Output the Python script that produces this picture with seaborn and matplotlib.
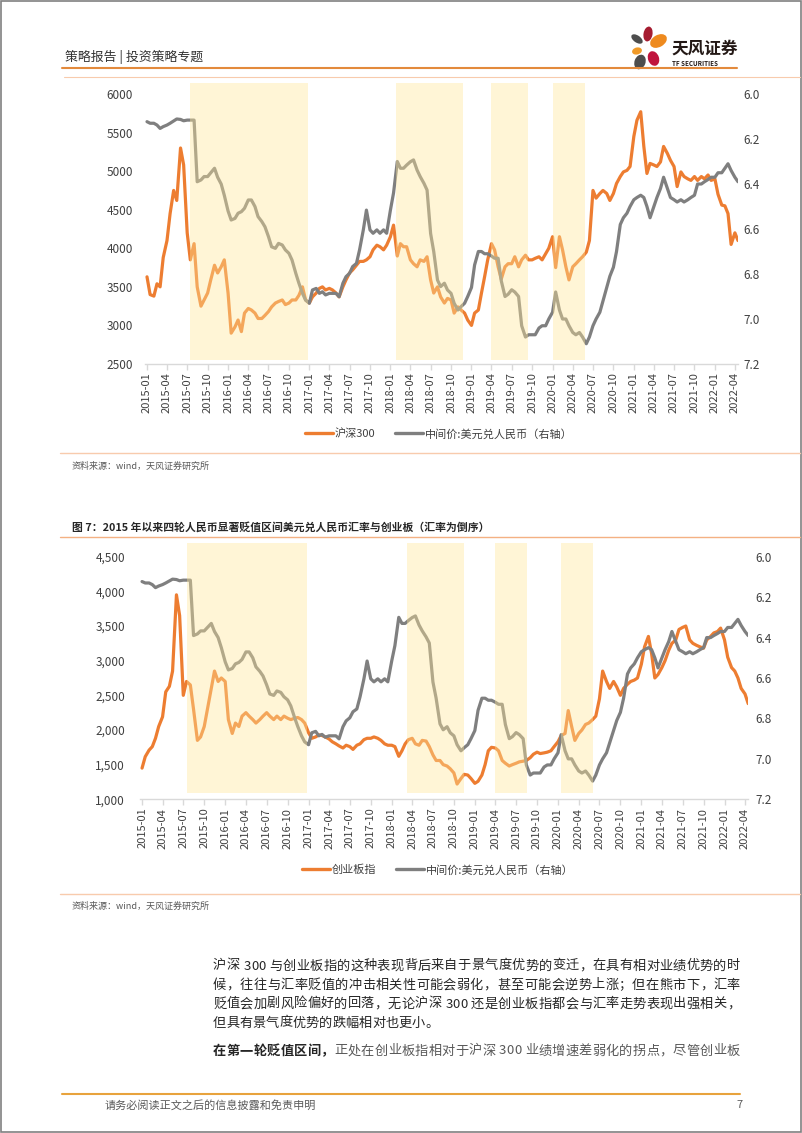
import pandas as pd
import matplotlib
matplotlib.use('Agg')
import matplotlib.pyplot as plt
from matplotlib.lines import Line2D
from matplotlib.patches import Ellipse, Rectangle
import seaborn as sns

# semi-monthly sample dates (1st and 15th), 2015-01 .. 2022-04
dates = pd.date_range('2015-01-01', '2022-04-15', freq='SMS')

# 沪深300
hs300 = [
    3630, 3400, 3380, 3540, 3500, 3880, 4100, 4450, 4750, 4620, 5300, 5080,
    4200, 3850, 4060, 3500, 3250, 3330, 3420, 3590, 3780, 3680, 3760, 3850,  # 2015
    3420, 2900, 2980, 3070, 2920, 3160, 3220, 3200, 3160, 3090, 3090, 3130,
    3180, 3240, 3290, 3310, 3330, 3270, 3290, 3330, 3330, 3390, 3500, 3330,  # 2016
    3290, 3370, 3420, 3480, 3500, 3460, 3480, 3460, 3420, 3370, 3500, 3590,
    3680, 3720, 3780, 3830, 3830, 3850, 3890, 3980, 4040, 4020, 3980, 4040,  # 2017
    4150, 4300, 3900, 4060, 4020, 4020, 3850, 3800, 3760, 3850, 3830, 3890,
    3590, 3420, 3500, 3370, 3290, 3350, 3330, 3160, 3240, 3200, 3160, 3070,  # 2018
    3000, 3160, 3200, 3420, 3630, 3850, 4060, 3980, 3760, 3600, 3760, 3800,
    3800, 3890, 3760, 3850, 3910, 3850, 3850, 3870, 3890, 3850, 3930, 4000,  # 2019
    4150, 3750, 4150, 3980, 3760, 3590, 3760, 3800, 3850, 3890, 3950, 4100,
    4750, 4650, 4710, 4750, 4710, 4620, 4710, 4840, 4930, 4990, 5010, 5060,  # 2020
    5450, 5660, 5770, 5320, 4970, 5100, 5080, 5060, 5120, 5320, 5230, 5140,
    5060, 4800, 4990, 4930, 4900, 4880, 4930, 4880, 4930, 4900, 4950, 4880,  # 2021
    4900, 4700, 4560, 4550, 4450, 4050, 4200, 4100,                          # 2022
]

# 创业板指
chinext = [
    1450, 1615, 1710, 1760, 1880, 2050, 2190, 2550, 2630, 2850, 3950, 3650,
    2500, 2700, 2650, 2300, 1850, 1900, 2050, 2300, 2600, 2850, 2700, 2750,  # 2015
    2700, 2150, 1950, 2100, 2050, 2200, 2250, 2200, 2150, 2100, 2150, 2200,
    2250, 2200, 2150, 2200, 2150, 2200, 2170, 2150, 2170, 2180, 2150, 2100,  # 2016
    1960, 1880, 1900, 1930, 1920, 1900, 1870, 1830, 1800, 1770, 1740, 1780,
    1760, 1720, 1780, 1800, 1860, 1880, 1880, 1900, 1880, 1850, 1800, 1780,  # 2017
    1780, 1760, 1620, 1700, 1800, 1860, 1880, 1800, 1780, 1850, 1840, 1760,
    1640, 1560, 1560, 1500, 1480, 1440, 1380, 1220, 1300, 1360, 1350, 1300,  # 2018
    1230, 1260, 1350, 1500, 1700, 1750, 1740, 1700, 1560, 1520, 1480, 1500,
    1520, 1540, 1550, 1560, 1600, 1650, 1680, 1660, 1670, 1680, 1700, 1760,  # 2019
    1830, 1920, 1950, 2280, 2050, 1850, 1950, 2000, 2080, 2100, 2150, 2200,
    2450, 2850, 2700, 2600, 2700, 2620, 2500, 2600, 2660, 2700, 2720, 2750,  # 2020
    2950, 3200, 3350, 3100, 2750, 2800, 2900, 3000, 3150, 3250, 3300, 3450,
    3480, 3500, 3300, 3250, 3220, 3200, 3180, 3300, 3350, 3400, 3420, 3470,  # 2021
    3300, 3050, 2900, 2850, 2750, 2600, 2520, 2380,                          # 2022
]

# 中间价:美元兑人民币, same series in both charts (right axis, reversed)
usdcny = [
    6.123, 6.130, 6.130, 6.138, 6.153, 6.145, 6.138, 6.130, 6.120, 6.111, 6.113, 6.119,
    6.116, 6.116, 6.116, 6.390, 6.382, 6.367, 6.367, 6.350, 6.330, 6.370, 6.400, 6.450,  # 2015
    6.520, 6.560, 6.553, 6.530, 6.523, 6.508, 6.471, 6.471, 6.500, 6.545, 6.567, 6.590,
    6.634, 6.679, 6.686, 6.664, 6.671, 6.693, 6.708, 6.738, 6.797, 6.841, 6.886, 6.916,  # 2016
    6.930, 6.871, 6.864, 6.886, 6.879, 6.893, 6.886, 6.886, 6.886, 6.901, 6.841, 6.812,
    6.797, 6.767, 6.753, 6.693, 6.604, 6.516, 6.604, 6.619, 6.604, 6.619, 6.604, 6.619,  # 2017
    6.516, 6.440, 6.300, 6.330, 6.330, 6.316, 6.301, 6.293, 6.338, 6.367, 6.397, 6.427,
    6.620, 6.700, 6.827, 6.856, 6.841, 6.871, 6.886, 6.930, 6.960, 6.945, 6.930, 6.900,  # 2018
    6.860, 6.760, 6.700, 6.700, 6.710, 6.710, 6.720, 6.730, 6.730, 6.830, 6.900, 6.890,
    6.870, 6.880, 6.900, 7.030, 7.080, 7.070, 7.070, 7.070, 7.040, 7.030, 7.030, 7.000,  # 2019
    6.970, 6.880, 6.960, 7.000, 7.000, 7.030, 7.060, 7.070, 7.060, 7.080, 7.110, 7.080,
    7.030, 7.000, 6.970, 6.920, 6.860, 6.810, 6.770, 6.700, 6.580, 6.550, 6.530, 6.500,  # 2020
    6.470, 6.460, 6.450, 6.460, 6.500, 6.550, 6.500, 6.460, 6.420, 6.370, 6.420, 6.460,
    6.470, 6.480, 6.470, 6.480, 6.470, 6.460, 6.450, 6.400, 6.400, 6.390, 6.380, 6.370,  # 2021
    6.370, 6.350, 6.350, 6.330, 6.310, 6.340, 6.370, 6.390,                              # 2022
]

quarter_ticks = pd.date_range('2015-01-01', '2022-04-01', freq='3MS')
quarter_labels = [d.strftime('%Y-%m') for d in quarter_ticks]

hs300_ticks = [2500, 3000, 3500, 4000, 4500, 5000, 5500, 6000]
chinext_ticks = [1000, 1500, 2000, 2500, 3000, 3500, 4000, 4500]
fx_ticks = [6.0, 6.2, 6.4, 6.6, 6.8, 7.0, 7.2]

# 贬值区间 shading as drawn in each chart
spans_hs300 = [('2015-07-12', '2016-12-25'), ('2018-01-26', '2018-11-23'),
               ('2019-03-28', '2019-09-13'), ('2020-01-03', '2020-05-25')]
spans_chinext = [('2015-07-19', '2016-12-27'), ('2018-03-09', '2018-11-14'),
                 ('2019-03-29', '2019-08-18'), ('2020-01-15', '2020-06-02')]

fx_name = '中间价:美元兑人民币（右轴）'

body_lines = [
    '沪深 300 与创业板指的这种表现背后来自于景气度优势的变迁，在具有相对业绩优势的时',
    '候，往往与汇率贬值的冲击相关性可能会弱化，甚至可能会逆势上涨；但在熊市下，汇率',
    '贬值会加剧风险偏好的回落，无论沪深 300 还是创业板指都会与汇率走势表现出强相关，',
    '但具有景气度优势的跌幅相对也更小。',
]
body_bold = '在第一轮贬值区间，'
body_tail = '正处在创业板指相对于沪深 300 业绩增速差弱化的拐点，尽管创业板'

ORANGE = '#ED7D31'
GRAY = '#7F7F7F'
TXT = '#404040'
W, H = 802, 1133


def drawChart(fig, rect, index_values, left_ticks, left_labels, spans, span_y, left_pad, right_pad):
    ax = fig.add_axes(rect)
    ax.set_facecolor('none')
    sns.lineplot(x=dates, y=index_values, ax=ax, color=ORANGE, linewidth=2.3)
    ax2 = ax.twinx()
    sns.lineplot(x=dates, y=usdcny, ax=ax2, color=GRAY, linewidth=2.3)

    ax.set_ylim(left_ticks[0], left_ticks[-1])
    ax.set_yticks(left_ticks)
    ax.set_yticklabels(left_labels)
    ax2.set_ylim(7.2, 6.0)
    ax2.set_yticks(fx_ticks)
    ax2.set_yticklabels([f'{v:.1f}' for v in fx_ticks])
    ax.set_xlim(pd.Timestamp('2014-12-23'), pd.Timestamp('2022-04-15'))
    ax.set_xticks(quarter_ticks)
    ax.set_xticklabels(quarter_labels, rotation=90)

    for a in (ax, ax2):
        for s in a.spines.values():
            s.set_visible(False)
        a.set_xlabel('')
        a.set_ylabel('')
        a.grid(False)
    ax.spines['bottom'].set_visible(True)
    ax.spines['bottom'].set_color('#D9D9D9')
    ax.spines['bottom'].set_linewidth(1.0)
    ax.tick_params(axis='x', bottom=True, length=4, width=1, color='#D9D9D9',
                   labelsize=8, labelcolor=TXT, pad=2)
    ax.tick_params(axis='y', left=False, length=0, labelsize=8.5, labelcolor=TXT, pad=left_pad)
    ax2.tick_params(axis='y', right=False, length=0, labelsize=8.5, labelcolor=TXT, pad=right_pad)

    for start, end in spans:
        ax2.axvspan(pd.Timestamp(start), pd.Timestamp(end), ymin=span_y[0], ymax=span_y[1],
                    color='#FFE699', alpha=0.4, lw=0, zorder=5, clip_on=False)
    return ax, ax2


def addLegend(fig, labels, cx, cy):
    handles = [Line2D([0], [0], color=ORANGE, lw=2.4), Line2D([0], [0], color=GRAY, lw=2.4)]
    fig.legend(handles=handles, labels=labels, loc='center', bbox_to_anchor=(cx / W, 1 - cy / H),
               ncol=2, frameon=False, fontsize=8, handlelength=2.5, handletextpad=0.2,
               columnspacing=1.8, labelcolor=TXT)


def justifyText(fig, page, x0, x1, y, segments):
    # place characters one by one so the line runs from x0 to x1
    renderer = fig.canvas.get_renderer()
    chars = []
    for text, kw in segments:
        for ch in text:
            t = page.text(0, 0, ch if ch != ' ' else '0', **kw)
            w = t.get_window_extent(renderer).width
            t.remove()
            if ch == ' ':
                w *= 0.45
            chars.append((ch, kw, w))
    natural = sum(c[2] for c in chars)
    extra = 0.0
    if x1 is not None and len(chars) > 1:
        extra = (x1 - x0 - natural) / (len(chars) - 1)
    x = x0
    for ch, kw, w in chars:
        if ch != ' ':
            page.text(x, y, ch, va='center', **kw)
        x += w + extra


if __name__ == "__main__":
    sns.set_theme(style='white')
    plt.rcParams['font.family'] = ['Noto Sans CJK SC', 'DejaVu Sans']
    plt.rcParams['axes.unicode_minus'] = False

    fig = plt.figure(figsize=(W / 100, H / 100), dpi=100)
    fig.patch.set_facecolor('white')

    # page layer in pixel coordinates
    page = fig.add_axes([0, 0, 1, 1])
    page.set_xlim(0, W)
    page.set_ylim(H, 0)
    page.set_axis_off()

    # header
    page.text(65, 57, '策略报告 | 投资策略专题', fontsize=9.3, color='#333333', va='center')
    page.plot([62, 737], [68, 68], color='#E38A3C', lw=1.5)
    page.plot([64, 800], [77, 77], color='#F8CBAD', lw=0.8)
    petals = [(648, 34, 9, 15, 10, '#A51C30'), (637, 39, 13, 7, 35, '#4D4D4D'),
              (658.5, 41, 18, 12, -30, '#EE8A1E'), (637, 51, 10, 7, -15, '#F09A28'),
              (653.5, 58.5, 11, 15, -20, '#C0143C'), (640, 62, 11, 15, 20, '#4D4D4D')]
    for x, y, w, h, ang, c in petals:
        page.add_patch(Ellipse((x, y), w, h, angle=ang, color=c, lw=0))
    page.text(671, 49, '天风证券', fontsize=12, fontweight='bold', color='#231815', va='center')
    page.text(672, 63, 'TF SECURITIES', fontsize=4.5, fontweight='bold', color='#231815', va='center')

    # chart 1: 沪深300
    drawChart(fig, [145 / W, 1 - 364 / H, 593 / W, 270 / H], hs300,
              hs300_ticks, [str(v) for v in hs300_ticks], spans_hs300, (0.015, 1.041), 8.6, 3.6)
    addLegend(fig, ['沪深300', fx_name], 439, 434)
    page.plot([60, 800], [453, 453], color='#F8CBAD', lw=1)
    page.text(72, 466, '资料来源：wind，天风证券研究所', fontsize=6.5, color='#595959', va='center')

    # chart 2: 创业板指
    page.text(72, 527, '图 7：2015 年以来四轮人民币显著贬值区间美元兑人民币汇率与创业板（汇率为倒序）',
              fontsize=7.8, fontweight='bold', color='#262626', va='center')
    page.plot([60, 800], [537, 537], color='#F4B183', lw=1)
    drawChart(fig, [140 / W, 1 - 799.3 / H, 608.2 / W, 242.6 / H], chinext,
              chinext_ticks, [f'{v:,}' for v in chinext_ticks], spans_chinext, (0.026, 1.055), 10.8, 5)
    addLegend(fig, ['创业板指', fx_name], 438, 870)
    page.plot([60, 800], [894, 894], color='#F8CBAD', lw=1)
    page.text(72, 906, '资料来源：wind，天风证券研究所', fontsize=6.5, color='#595959', va='center')

    # body text
    fig.canvas.draw()
    body_kw = dict(fontsize=9.5, color='#262626')
    for i, line in enumerate(body_lines):
        right = 740 if i < len(body_lines) - 1 else None
        justifyText(fig, page, 213, right, 966 + i * 19, [(line, body_kw)])
    justifyText(fig, page, 213, 740, 1051,
                [(body_bold, dict(fontsize=9.5, fontweight='bold', color='#262626')),
                 (body_tail, dict(fontsize=9.5, color='#595959'))])

    # footer
    page.plot([62, 740], [1094, 1094], color='#E8A33D', lw=1.5)
    page.text(105, 1105, '请务必阅读正文之后的信息披露和免责申明', fontsize=8, color='#595959', va='center')
    page.text(736, 1105, '7', fontsize=8, color='#595959', va='center')

    page.add_patch(Rectangle((0.5, 0.5), W - 1.5, H - 1.5, fill=False, edgecolor='#808080', lw=1.2))

    fig.savefig('out.png', dpi=100)
    plt.close()
